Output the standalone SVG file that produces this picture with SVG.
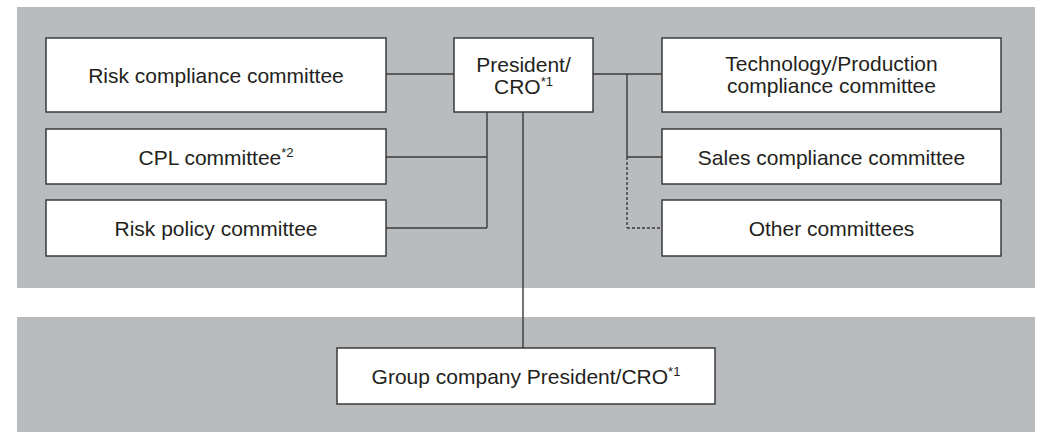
<svg xmlns="http://www.w3.org/2000/svg" width="1040" height="432" viewBox="0 0 1040 432">
<style>
.panel{fill:#b8bcbe;}
.box{fill:#ffffff;stroke:#3d3a3a;stroke-width:1.5;}
.t{font-family:"Liberation Sans",Arial,sans-serif;font-size:21px;fill:#231f20;text-anchor:middle;}
.sup{font-size:13px;}
.ln{stroke:#3d3a3a;stroke-width:1.4;fill:none;}
.dash{stroke:#3d3a3a;stroke-width:1.4;fill:none;stroke-dasharray:3 2;}
</style>
<rect class="panel" x="17" y="7" width="1018" height="281"/>
<rect class="panel" x="17" y="317" width="1018" height="115"/>
<g id="connectors">
<line class="ln" x1="386" y1="74" x2="454" y2="74"/>
<line class="ln" x1="593" y1="74" x2="662" y2="74"/>
<line class="ln" x1="487" y1="112" x2="487" y2="228"/>
<line class="ln" x1="386" y1="157" x2="487" y2="157"/>
<line class="ln" x1="386" y1="228" x2="487" y2="228"/>
<line class="ln" x1="523" y1="112" x2="523" y2="348"/>
<line class="ln" x1="627" y1="74" x2="627" y2="157"/>
<line class="ln" x1="627" y1="157" x2="662" y2="157"/>
<line class="dash" x1="627" y1="157" x2="627" y2="228"/>
<line class="dash" x1="627" y1="228" x2="662" y2="228"/>
</g>
<g id="risk-compliance">
<rect class="box" x="46" y="38" width="340" height="74"/>
<text class="t" x="216" y="82.5">Risk compliance committee</text>
</g>
<g id="cpl">
<rect class="box" x="46" y="129" width="340" height="55"/>
<text class="t" x="216" y="165">CPL committee<tspan class="sup" dy="-8">*2</tspan></text>
</g>
<g id="risk-policy">
<rect class="box" x="46" y="200" width="340" height="56"/>
<text class="t" x="216" y="236">Risk policy committee</text>
</g>
<g id="president">
<rect class="box" x="454" y="38" width="139" height="74"/>
<text class="t" x="523.5" y="72">President/</text>
<text class="t" x="523.5" y="94">CRO<tspan class="sup" dy="-8">*1</tspan></text>
</g>
<g id="tech-production">
<rect class="box" x="662" y="38" width="339" height="74"/>
<text class="t" x="831.5" y="71">Technology/Production</text>
<text class="t" x="831.5" y="93">compliance committee</text>
</g>
<g id="sales">
<rect class="box" x="662" y="129" width="339" height="55"/>
<text class="t" x="831.5" y="165">Sales compliance committee</text>
</g>
<g id="other">
<rect class="box" x="662" y="200" width="339" height="56"/>
<text class="t" x="831.5" y="236">Other committees</text>
</g>
<g id="group-president">
<rect class="box" x="337" y="348" width="378" height="56"/>
<text class="t" x="526" y="384">Group company President/CRO<tspan class="sup" dy="-8">*1</tspan></text>
</g>
</svg>
